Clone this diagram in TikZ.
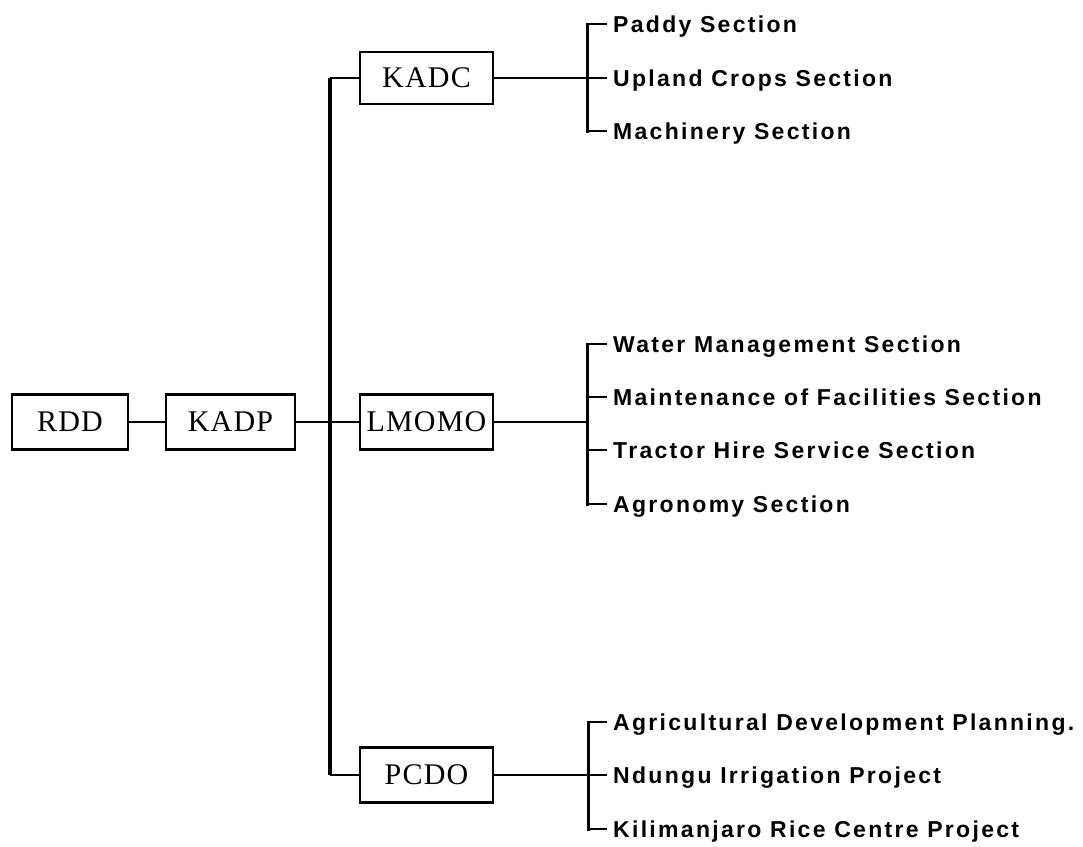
\documentclass[tikz,border=0pt]{standalone}
\usepackage{fontspec}
\setmainfont{Liberation Serif}
\newfontfamily\secfont[LetterSpace=10]{Liberation Sans}
\newfontfamily\boxfont[LetterSpace=4]{Liberation Serif}
\begin{document}
\begin{tikzpicture}[x=1pt,y=-1pt,
  box/.style={draw, line width=2.2pt, inner sep=0pt, minimum height=55pt,
    font=\boxfont\fontsize{30}{30}\selectfont},
  conn/.style={line width=1.4pt},
  bus/.style={line width=3.4pt},
  brk/.style={line width=3pt, line cap=rect},
  sec/.style={anchor=west, inner sep=0pt, text height=16pt, text depth=0pt,
    font=\secfont\bfseries\fontsize{23}{23}\selectfont}]
\useasboundingbox (0,0) rectangle (1083,846);

% boxes
\node[box, minimum width=116pt] (rdd) at (70,422) {RDD};
\node[box, minimum width=129pt] (kadp) at (230.5,422) {KADP};
\node[box, minimum width=133pt, minimum height=52pt] (kadc) at (426.5,78) {KADC};
\node[box, minimum width=133pt] (lmomo) at (426.5,422) {LMOMO};
\node[box, minimum width=133pt] (pcdo) at (426.5,775) {PCDO};

% main connectors
\coordinate (bt) at (330,78);
\coordinate (bb) at (330,775);
\draw[conn] (rdd) -- (kadp);
\draw[conn] (kadp) -- (lmomo);
\draw[bus] (bt) -- (bb);
\draw[conn] (bt) -- (kadc.west);
\draw[conn] (bb) -- (pcdo.west);

% KADC sections
\node[sec] (k1) at (613,24) {Paddy Section};
\node[sec] (k2) at (613,78) {Upland Crops Section};
\node[sec] (k3) at (613,131) {Machinery Section};
\coordinate (kb1) at (587,24);
\coordinate (kb2) at (587,78);
\coordinate (kb3) at (587,131);
\draw[conn] (kadc.east) -- (kb2);
\draw[brk] (kb1) -- (kb3);
\foreach \i in {1,2,3} \draw[conn] (kb\i) -- ([xshift=-6pt]k\i.west);

% LMOMO sections
\node[sec] (l1) at (613,344) {Water Management Section};
\node[sec] (l2) at (613,397) {Maintenance of Facilities Section};
\node[sec] (l3) at (613,450) {Tractor Hire Service Section};
\node[sec] (l4) at (613,504) {Agronomy Section};
\coordinate (lb1) at (587,344);
\coordinate (lb2) at (587,397);
\coordinate (lb3) at (587,450);
\coordinate (lb4) at (587,504);
\coordinate (lbm) at (587,422);
\draw[conn] (lmomo.east) -- (lbm);
\draw[brk] (lb1) -- (lb4);
\foreach \i in {1,2,3,4} \draw[conn] (lb\i) -- ([xshift=-6pt]l\i.west);

% PCDO sections
\node[sec] (p1) at (613,722) {Agricultural Development Planning.};
\node[sec] (p2) at (613,775) {Ndungu Irrigation Project};
\node[sec] (p3) at (613,829) {Kilimanjaro Rice Centre Project};
\coordinate (pb1) at (588,722);
\coordinate (pb2) at (588,775);
\coordinate (pb3) at (588,829);
\draw[conn] (pcdo.east) -- (pb2);
\draw[brk] (pb1) -- (pb3);
\foreach \i in {1,2,3} \draw[conn] (pb\i) -- ([xshift=-6pt]p\i.west);
\end{tikzpicture}
\end{document}
